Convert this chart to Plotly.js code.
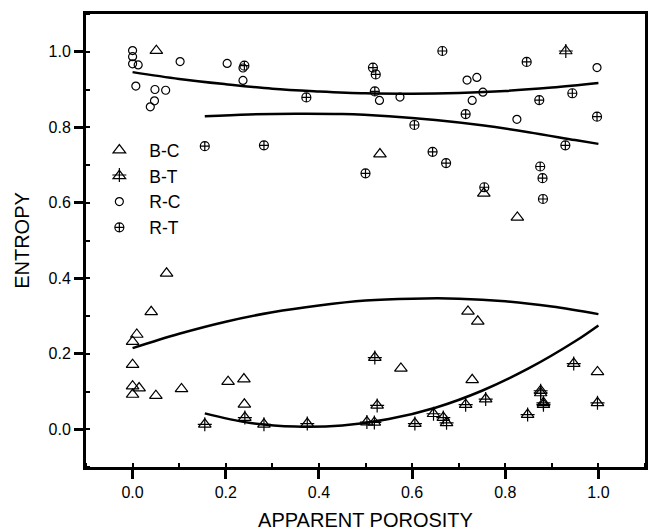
<!DOCTYPE html>
<html>
<head>
<meta charset="utf-8">
<script src="https://cdn.plot.ly/plotly-3.0.1.min.js"></script>
<style>html,body{margin:0;padding:0;background:#fff;}#chart{width:648px;height:531px;}</style>
</head>
<body>
<div id="chart"></div>
<script>
// B-C (open triangles)
const bcX = [0.051, 0.531, 0.754, 0.826, 0.073, 0.040, 0.009, 0.0, 0.0, 0.0, 0.014, 0.0, 0.050, 0.105, 0.205, 0.239, 0.240, 0.576, 0.720, 0.741, 0.729, 0.998];
const bcY = [1.003, 0.729, 0.625, 0.561, 0.413, 0.311, 0.251, 0.232, 0.171, 0.114, 0.109, 0.092, 0.089, 0.107, 0.126, 0.133, 0.066, 0.161, 0.312, 0.286, 0.131, 0.152];
// B-T (crossed triangles)
const btX = [0.930, 0.155, 0.241, 0.282, 0.375, 0.503, 0.519, 0.520, 0.525, 0.606, 0.646, 0.667, 0.674, 0.715, 0.758, 0.848, 0.876, 0.876, 0.882, 0.882, 0.947, 0.998];
const btY = [1.002, 0.013, 0.031, 0.013, 0.015, 0.019, 0.018, 0.190, 0.063, 0.015, 0.041, 0.031, 0.017, 0.065, 0.080, 0.039, 0.102, 0.096, 0.070, 0.065, 0.174, 0.070];
// R-C (open circles)
const rcX = [0.0, 0.0, 0.0, 0.012, 0.007, 0.048, 0.071, 0.047, 0.038, 0.102, 0.203, 0.237, 0.237, 0.530, 0.574, 0.718, 0.739, 0.752, 0.729, 0.825, 0.997];
const rcY = [1.003, 0.987, 0.968, 0.965, 0.909, 0.900, 0.898, 0.870, 0.854, 0.974, 0.969, 0.957, 0.924, 0.871, 0.880, 0.925, 0.932, 0.893, 0.871, 0.821, 0.958];
// R-T (crossed circles)
const rtX = [0.240, 0.373, 0.516, 0.522, 0.520, 0.155, 0.282, 0.500, 0.665, 0.846, 0.873, 0.944, 0.715, 0.997, 0.605, 0.929, 0.644, 0.673, 0.755, 0.875, 0.880, 0.881];
const rtY = [0.963, 0.879, 0.958, 0.940, 0.895, 0.750, 0.752, 0.678, 1.002, 0.973, 0.872, 0.890, 0.835, 0.828, 0.806, 0.752, 0.735, 0.705, 0.641, 0.696, 0.665, 0.610];

// Fit curves
const fitRCX = [0, 0.1, 0.2, 0.3, 0.4, 0.5, 0.6, 0.7, 0.8, 0.9, 1.0];
const fitRCY = [0.946, 0.928, 0.914, 0.902, 0.895, 0.890, 0.889, 0.891, 0.896, 0.905, 0.917];
const fitRTX = [0.155, 0.25, 0.35, 0.45, 0.55, 0.65, 0.75, 0.85, 0.95, 1.0];
const fitRTY = [0.829, 0.834, 0.836, 0.835, 0.829, 0.819, 0.805, 0.787, 0.766, 0.756];
const fitBCX = [0, 0.1, 0.2, 0.3, 0.4, 0.5, 0.6, 0.7, 0.8, 0.9, 1.0];
const fitBCY = [0.215, 0.253, 0.285, 0.310, 0.328, 0.341, 0.346, 0.346, 0.339, 0.325, 0.305];
const fitBTX = [0.155, 0.25, 0.35, 0.45, 0.55, 0.65, 0.75, 0.85, 0.95, 1.0];
const fitBTY = [0.042, 0.017, 0.007, 0.010, 0.027, 0.057, 0.102, 0.161, 0.233, 0.275];

const seriesNames = ['B-C', 'B-T', 'R-C', 'R-T'];
const xTitle = 'APPARENT POROSITY';
const yTitle = 'ENTROPY';

const regular = '"Liberation Sans", Arial, sans-serif';

function fit(x, y) {
  return {x: x, y: y, mode: 'lines', type: 'scatter', showlegend: false, hoverinfo: 'skip',
    line: {color: '#000', width: 2.5, shape: 'spline', smoothing: 1}};
}
const mline = {color: '#000', width: 1.2};

const data = [
  fit(fitRCX, fitRCY), fit(fitRTX, fitRTY), fit(fitBCX, fitBCY), fit(fitBTX, fitBTY),
  {x: bcX, y: bcY, name: seriesNames[0], mode: 'markers', type: 'scatter',
    marker: {symbol: 'triangle-up-open', size: 11, color: '#000', line: mline}},
  {x: btX, y: btY, name: seriesNames[1], mode: 'markers', type: 'scatter', legendgroup: 'bt',
    marker: {symbol: 'triangle-up-open', size: 11, color: '#000', line: mline}},
  {x: btX, y: btY, name: ' ', mode: 'markers', type: 'scatter', legendgroup: 'bt', legend: 'legend2',
    marker: {symbol: 'cross-thin-open', size: 10, color: '#000', line: mline}},
  {x: rcX, y: rcY, name: seriesNames[2], mode: 'markers', type: 'scatter',
    marker: {symbol: 'circle-open', size: 8, color: '#000', line: mline}},
  {x: rtX, y: rtY, name: seriesNames[3], mode: 'markers', type: 'scatter',
    marker: {symbol: 'circle-cross-open', size: 9, color: '#000', line: mline}}
];

const legFont = {family: regular, size: 17.5, color: '#000'};
const layout = {
  width: 648, height: 531,
  margin: {l: 86, r: 3, t: 14, b: 64, pad: 0},
  paper_bgcolor: '#fff', plot_bgcolor: '#fff',
  font: {family: regular, color: '#000', size: 16},
  showlegend: true,
  legend: {x: 0.006, y: 0.739, xanchor: 'left', yanchor: 'top', bgcolor: 'rgba(0,0,0,0)',
    font: legFont, itemwidth: 50, tracegroupgap: 0},
  legend2: {x: 0.006, y: 0.684, xanchor: 'left', yanchor: 'top', bgcolor: 'rgba(0,0,0,0)',
    font: legFont, itemwidth: 50},
  xaxis: {range: [-0.1, 1.1], dtick: 0.2, tick0: 0, tickformat: '.1f',
    showgrid: false, zeroline: false, showline: true, linewidth: 3, linecolor: '#000', mirror: true,
    ticks: 'outside', ticklen: 9, tickwidth: 3, tickcolor: '#000',
    minor: {ticks: 'inside', dtick: 0.1, ticklen: 4, tickwidth: 2, tickcolor: '#000', showgrid: false},
    tickfont: {family: regular, size: 16},
    title: {text: xTitle, font: {family: regular, size: 20}, standoff: 22}},
  yaxis: {range: [-0.1, 1.1], dtick: 0.2, tick0: 0, tickformat: '.1f',
    showgrid: false, zeroline: false, showline: true, linewidth: 3, linecolor: '#000', mirror: true,
    ticks: 'outside', ticklen: 9, tickwidth: 3, tickcolor: '#000',
    minor: {ticks: 'inside', dtick: 0.1, ticklen: 4, tickwidth: 2, tickcolor: '#000', showgrid: false},
    tickfont: {family: regular, size: 16},
    title: {text: yTitle, font: {family: regular, size: 20}, standoff: 14}},
  xaxis2: {overlaying: 'x', side: 'top', matches: 'x', range: [-0.1, 1.1], showticklabels: false,
    showgrid: false, zeroline: false, ticks: 'inside', dtick: 0.1, tick0: 0, ticklen: 4, tickwidth: 2, tickcolor: '#000'},
  yaxis2: {overlaying: 'y', side: 'right', matches: 'y', range: [-0.1, 1.1], showticklabels: false,
    showgrid: false, zeroline: false, ticks: 'inside', dtick: 0.1, tick0: 0, ticklen: 4, tickwidth: 2, tickcolor: '#000'}
};

Plotly.newPlot('chart', data, layout, {staticPlot: true, displayModeBar: false});
</script>
</body>
</html>
